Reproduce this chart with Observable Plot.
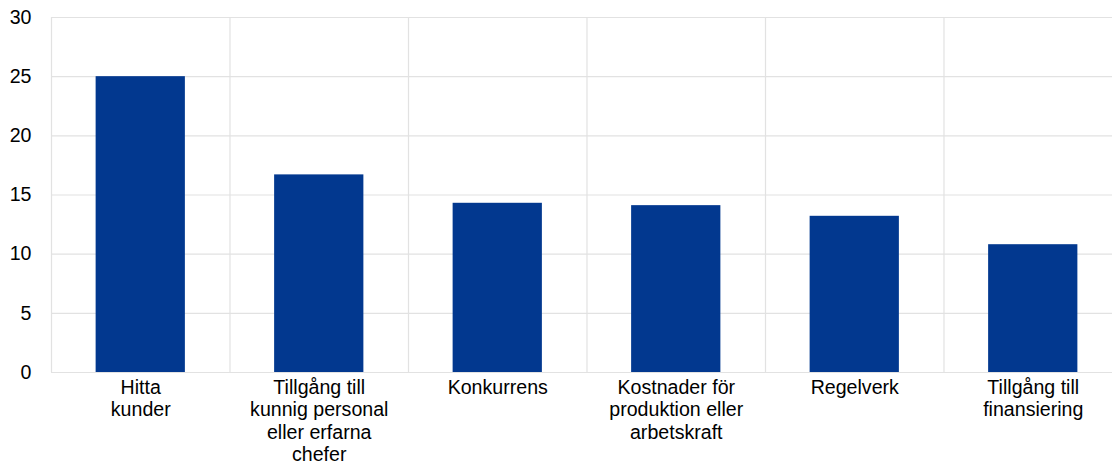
<!DOCTYPE html>
<html>
<head>
<meta charset="utf-8">
<script src="https://cdn.jsdelivr.net/npm/d3@7"></script>
<script src="https://cdn.jsdelivr.net/npm/@observablehq/plot@0.6"></script>
<style>
  html, body { margin: 0; padding: 0; background: #fff; overflow: hidden; }
  #chart svg { display: block; max-width: none !important; }
</style>
</head>
<body>
<div id="chart"></div>
<script>
const categories = ["Hitta kunder", "Tillgång till kunnig personal eller erfarna chefer", "Konkurrens", "Kostnader för produktion eller arbetskraft", "Regelverk", "Tillgång till finansiering"];
const tickLabels = ["Hitta\nkunder", "Tillgång till\nkunnig personal\neller erfarna\nchefer", "Konkurrens", "Kostnader för\nproduktion eller\narbetskraft", "Regelverk", "Tillgång till\nfinansiering"];
const values = [25.0, 16.7, 14.3, 14.1, 13.2, 10.8];
const yTicks = [0, 5, 10, 15, 20, 25, 30];

const data = categories.map((c, i) => ({ category: c, label: tickLabels[i], value: values[i], index: i }));
const boundaries = d3.range(categories.length + 1);

const gridColor = "#e2e2e2";
const barColor = "#02388f";

const chart = Plot.plot({
  width: 1122,
  height: 463,
  marginLeft: 51,
  marginRight: 0,
  marginTop: 17,
  marginBottom: 91,
  style: { fontFamily: "'Liberation Sans', Arial, sans-serif", fontSize: "19.6px", color: "#000", background: "#fff", maxWidth: "none" },
  x: { domain: [0, categories.length], axis: null },
  y: { domain: [0, 30], ticks: yTicks, label: null },
  marks: [
    Plot.gridY(yTicks, { stroke: gridColor, strokeOpacity: 1, strokeWidth: 1.2 }),
    Plot.ruleX(boundaries, { y1: 0, y2: 30, stroke: gridColor, strokeOpacity: 1, strokeWidth: 1.2 }),
    Plot.rectY(data, { x1: d => d.index + 0.25, x2: d => d.index + 0.75, y: "value", fill: barColor }),
    Plot.axisY(yTicks, { tickSize: 0, tickPadding: 20, fontSize: 19.6, label: null, fill: "#000" }),
    Plot.text(data, { x: d => d.index + 0.5, y: 0, text: "label", lineAnchor: "top", dy: 6, fontSize: 19.6, lineHeight: 1.133, fill: "#000" })
  ]
});
document.getElementById("chart").appendChild(chart);
</script>
</body>
</html>
